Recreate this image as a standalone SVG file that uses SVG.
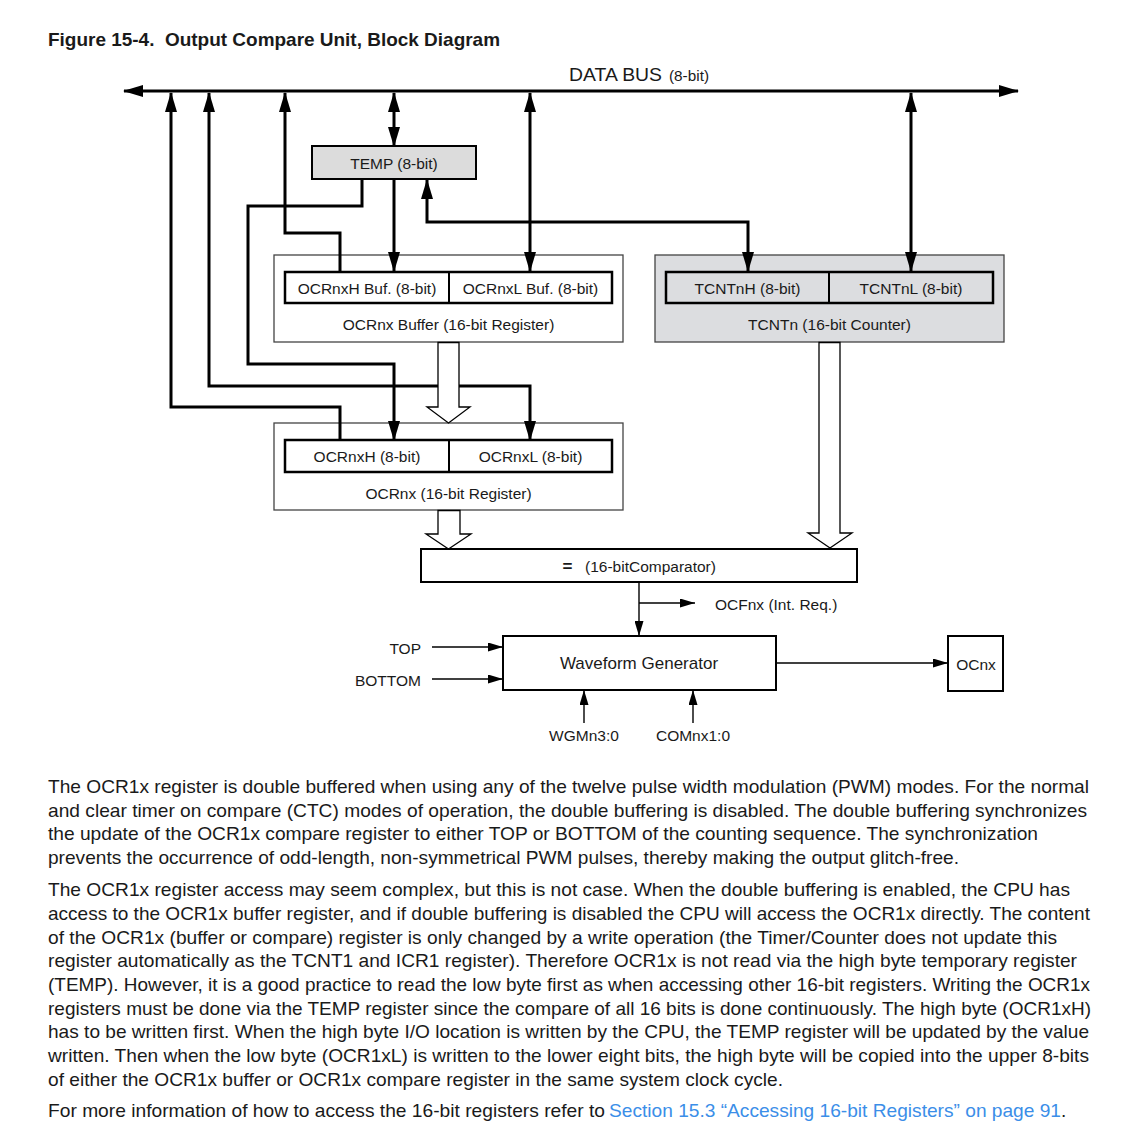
<svg xmlns="http://www.w3.org/2000/svg" width="1124" height="1146" viewBox="0 0 1124 1146">
<defs>
<style>
text{font-family:"Liberation Sans",Arial,sans-serif;fill:#1a1a1a}
.lbl{font-size:15.5px;text-anchor:middle}
.body{font-size:19px}
.outer{fill:#fff;stroke:#444;stroke-width:1.3}
.outerg{fill:#dcdde0;stroke:#444;stroke-width:1.3}
.inner{fill:#fff;stroke:#000;stroke-width:2.5}
.innerg{fill:#dcdde0;stroke:#000;stroke-width:2.5}
.box{fill:#fff;stroke:#000;stroke-width:2}
.thick{fill:none;stroke:#000;stroke-width:3}
.thin{fill:none;stroke:#000;stroke-width:1.4}
.hollow{fill:#fff;stroke:#000;stroke-width:1.3;stroke-linejoin:miter}
.link{fill:#3b8ee8}
</style>
<marker id="ah" viewBox="0 0 20 12" markerWidth="20" markerHeight="12" refX="19" refY="6" orient="auto-start-reverse" markerUnits="userSpaceOnUse"><path d="M0,0 L20,6 L0,12 z" fill="#000"/></marker>
<marker id="as" viewBox="0 0 15 9" markerWidth="15" markerHeight="9" refX="15" refY="4.5" orient="auto-start-reverse" markerUnits="userSpaceOnUse"><path d="M0,0 L15,4.5 L0,9 z" fill="#000"/></marker>
</defs>
<rect width="1124" height="1146" fill="#fff"/>

<text x="48" y="46" style="font-size:18.5px;font-weight:bold" textLength="452" lengthAdjust="spacingAndGlyphs">Figure 15-4.&#160; Output Compare Unit, Block Diagram</text>

<g id="bus">
<path class="thick" d="M124,91 H1018" marker-start="url(#ah)" marker-end="url(#ah)"/>
<text x="569" y="81" style="font-size:18.5px" textLength="93" lengthAdjust="spacingAndGlyphs">DATA BUS</text>
<text x="669" y="81" style="font-size:15.5px" textLength="40" lengthAdjust="spacingAndGlyphs">(8-bit)</text>
</g>

<g id="temp">
<rect x="312" y="146" width="164" height="33" fill="#dcdcdc" stroke="#000" stroke-width="2"/>
<text class="lbl" x="394" y="168.5">TEMP (8-bit)</text>
</g>

<g id="ocr-buffer">
<rect class="outer" x="274" y="255" width="349" height="87"/>
<rect class="inner" x="285" y="272" width="327" height="31"/>
<line x1="449" y1="272" x2="449" y2="303" stroke="#000" stroke-width="2"/>
<text class="lbl" x="367" y="293.5">OCRnxH Buf. (8-bit)</text>
<text class="lbl" x="530.5" y="293.5">OCRnxL Buf. (8-bit)</text>
<text class="lbl" x="448.5" y="329.5">OCRnx Buffer (16-bit Register)</text>
</g>

<g id="tcnt">
<rect class="outerg" x="655" y="255" width="349" height="87"/>
<rect class="innerg" x="666" y="272" width="327" height="31"/>
<line x1="829" y1="272" x2="829" y2="303" stroke="#000" stroke-width="2"/>
<text class="lbl" x="747.5" y="293.5">TCNTnH (8-bit)</text>
<text class="lbl" x="911" y="293.5">TCNTnL (8-bit)</text>
<text class="lbl" x="829.5" y="329.5">TCNTn (16-bit Counter)</text>
</g>

<g id="ocr">
<rect class="outer" x="274" y="423" width="349" height="87"/>
<rect class="inner" x="285" y="440" width="327" height="32"/>
<line x1="449" y1="440" x2="449" y2="472" stroke="#000" stroke-width="2"/>
<text class="lbl" x="367" y="461.5">OCRnxH (8-bit)</text>
<text class="lbl" x="530.5" y="461.5">OCRnxL (8-bit)</text>
<text class="lbl" x="448.5" y="498.5">OCRnx (16-bit Register)</text>
</g>

<g id="comparator">
<rect class="box" x="421" y="549" width="436" height="33"/>
<text x="567.5" y="572" style="font-size:17px;font-weight:bold;text-anchor:middle">=</text>
<text x="585" y="571.5" style="font-size:15.5px">(16-bitComparator)</text>
</g>

<g id="waveform">
<rect class="box" x="503" y="636" width="273" height="54"/>
<text x="639" y="669" style="font-size:17px;text-anchor:middle">Waveform Generator</text>
</g>

<g id="ocnx">
<rect class="box" x="948" y="636" width="55" height="55"/>
<text class="lbl" x="976" y="669.5">OCnx</text>
</g>

<g id="labels">
<text x="715" y="609.5" style="font-size:15.5px">OCFnx (Int. Req.)</text>
<text x="421" y="653.5" style="font-size:15.5px;text-anchor:end">TOP</text>
<text x="421" y="685.5" style="font-size:15.5px;text-anchor:end">BOTTOM</text>
<text class="lbl" x="584" y="740.5">WGMn3:0</text>
<text class="lbl" x="693" y="740.5">COMnx1:0</text>
</g>

<g id="connectors">
<path class="thick" d="M171,93 V407 H340 V440" marker-start="url(#ah)"/>
<path class="thick" d="M209,93 V386 H530 V440" marker-start="url(#ah)" marker-end="url(#ah)"/>
<path class="thick" d="M362,179 V206 H248 V364 H394 V440" marker-end="url(#ah)"/>
<path class="thick" d="M285,93 V233 H340 V272"  marker-start="url(#ah)"/>
<path class="thick" d="M394,93 V146" marker-start="url(#ah)" marker-end="url(#ah)"/>
<path class="thick" d="M394,179 V271" marker-end="url(#ah)"/>
<path class="thick" d="M530,93 V271" marker-start="url(#ah)" marker-end="url(#ah)"/>
<path class="thick" d="M427,180 V222 H748 V271" marker-start="url(#ah)" marker-end="url(#ah)"/>
<path class="thick" d="M911,93 V271" marker-start="url(#ah)" marker-end="url(#ah)"/>
<polygon class="hollow" points="438,342.5 438,407 427,407 448.5,423 470,407 459,407 459,342.5"/>
<polygon class="hollow" points="438,510.5 438,534 426,534 448.5,549 471,534 460,534 460,510.5"/>
<polygon class="hollow" points="819,342.5 819,533 808,533 830,548 852,533 840,533 840,342.5"/>
<path class="thin" d="M639,582 V636" marker-end="url(#as)"/>
<path class="thin" d="M639,603 H695" marker-end="url(#as)"/>
<path class="thin" d="M432,647 H503" marker-end="url(#as)"/>
<path class="thin" d="M432,679 H503" marker-end="url(#as)"/>
<path class="thin" d="M776,663 H948" marker-end="url(#as)"/>
<path class="thin" d="M584,723 V690" marker-end="url(#as)"/>
<path class="thin" d="M693,723 V690" marker-end="url(#as)"/>
</g>

<g id="text-body" class="body">
<text class="body" x="48" y="793" textLength="1041" lengthAdjust="spacingAndGlyphs">The OCR1x register is double buffered when using any of the twelve pulse width modulation (PWM) modes. For the normal</text>
<text class="body" x="48" y="817" textLength="1039" lengthAdjust="spacingAndGlyphs">and clear timer on compare (CTC) modes of operation, the double buffering is disabled. The double buffering synchronizes</text>
<text class="body" x="48" y="840" textLength="990" lengthAdjust="spacingAndGlyphs">the update of the OCR1x compare register to either TOP or BOTTOM of the counting sequence. The synchronization</text>
<text class="body" x="48" y="864" textLength="911" lengthAdjust="spacingAndGlyphs">prevents the occurrence of odd-length, non-symmetrical PWM pulses, thereby making the output glitch-free.</text>
<text class="body" x="48" y="896" textLength="1022" lengthAdjust="spacingAndGlyphs">The OCR1x register access may seem complex, but this is not case. When the double buffering is enabled, the CPU has</text>
<text class="body" x="48" y="920" textLength="1042" lengthAdjust="spacingAndGlyphs">access to the OCR1x buffer register, and if double buffering is disabled the CPU will access the OCR1x directly. The content</text>
<text class="body" x="48" y="944" textLength="1009" lengthAdjust="spacingAndGlyphs">of the OCR1x (buffer or compare) register is only changed by a write operation (the Timer/Counter does not update this</text>
<text class="body" x="48" y="967" textLength="1029" lengthAdjust="spacingAndGlyphs">register automatically as the TCNT1 and ICR1 register). Therefore OCR1x is not read via the high byte temporary register</text>
<text class="body" x="48" y="991" textLength="1042" lengthAdjust="spacingAndGlyphs">(TEMP). However, it is a good practice to read the low byte first as when accessing other 16-bit registers. Writing the OCR1x</text>
<text class="body" x="48" y="1015" textLength="1043" lengthAdjust="spacingAndGlyphs">registers must be done via the TEMP register since the compare of all 16 bits is done continuously. The high byte (OCR1xH)</text>
<text class="body" x="48" y="1038" textLength="1041" lengthAdjust="spacingAndGlyphs">has to be written first. When the high byte I/O location is written by the CPU, the TEMP register will be updated by the value</text>
<text class="body" x="48" y="1062" textLength="1041" lengthAdjust="spacingAndGlyphs">written. Then when the low byte (OCR1xL) is written to the lower eight bits, the high byte will be copied into the upper 8-bits</text>
<text class="body" x="48" y="1086" textLength="735" lengthAdjust="spacingAndGlyphs">of either the OCR1x buffer or OCR1x compare register in the same system clock cycle.</text>
<text class="body" x="48" y="1117" textLength="557" lengthAdjust="spacingAndGlyphs">For more information of how to access the 16-bit registers refer to</text>
<text class="body link" x="609" y="1117" textLength="452" lengthAdjust="spacingAndGlyphs">Section 15.3 “Accessing 16-bit Registers” on page 91</text>
<text class="body" x="1061" y="1117">.</text>
</g>
</svg>
